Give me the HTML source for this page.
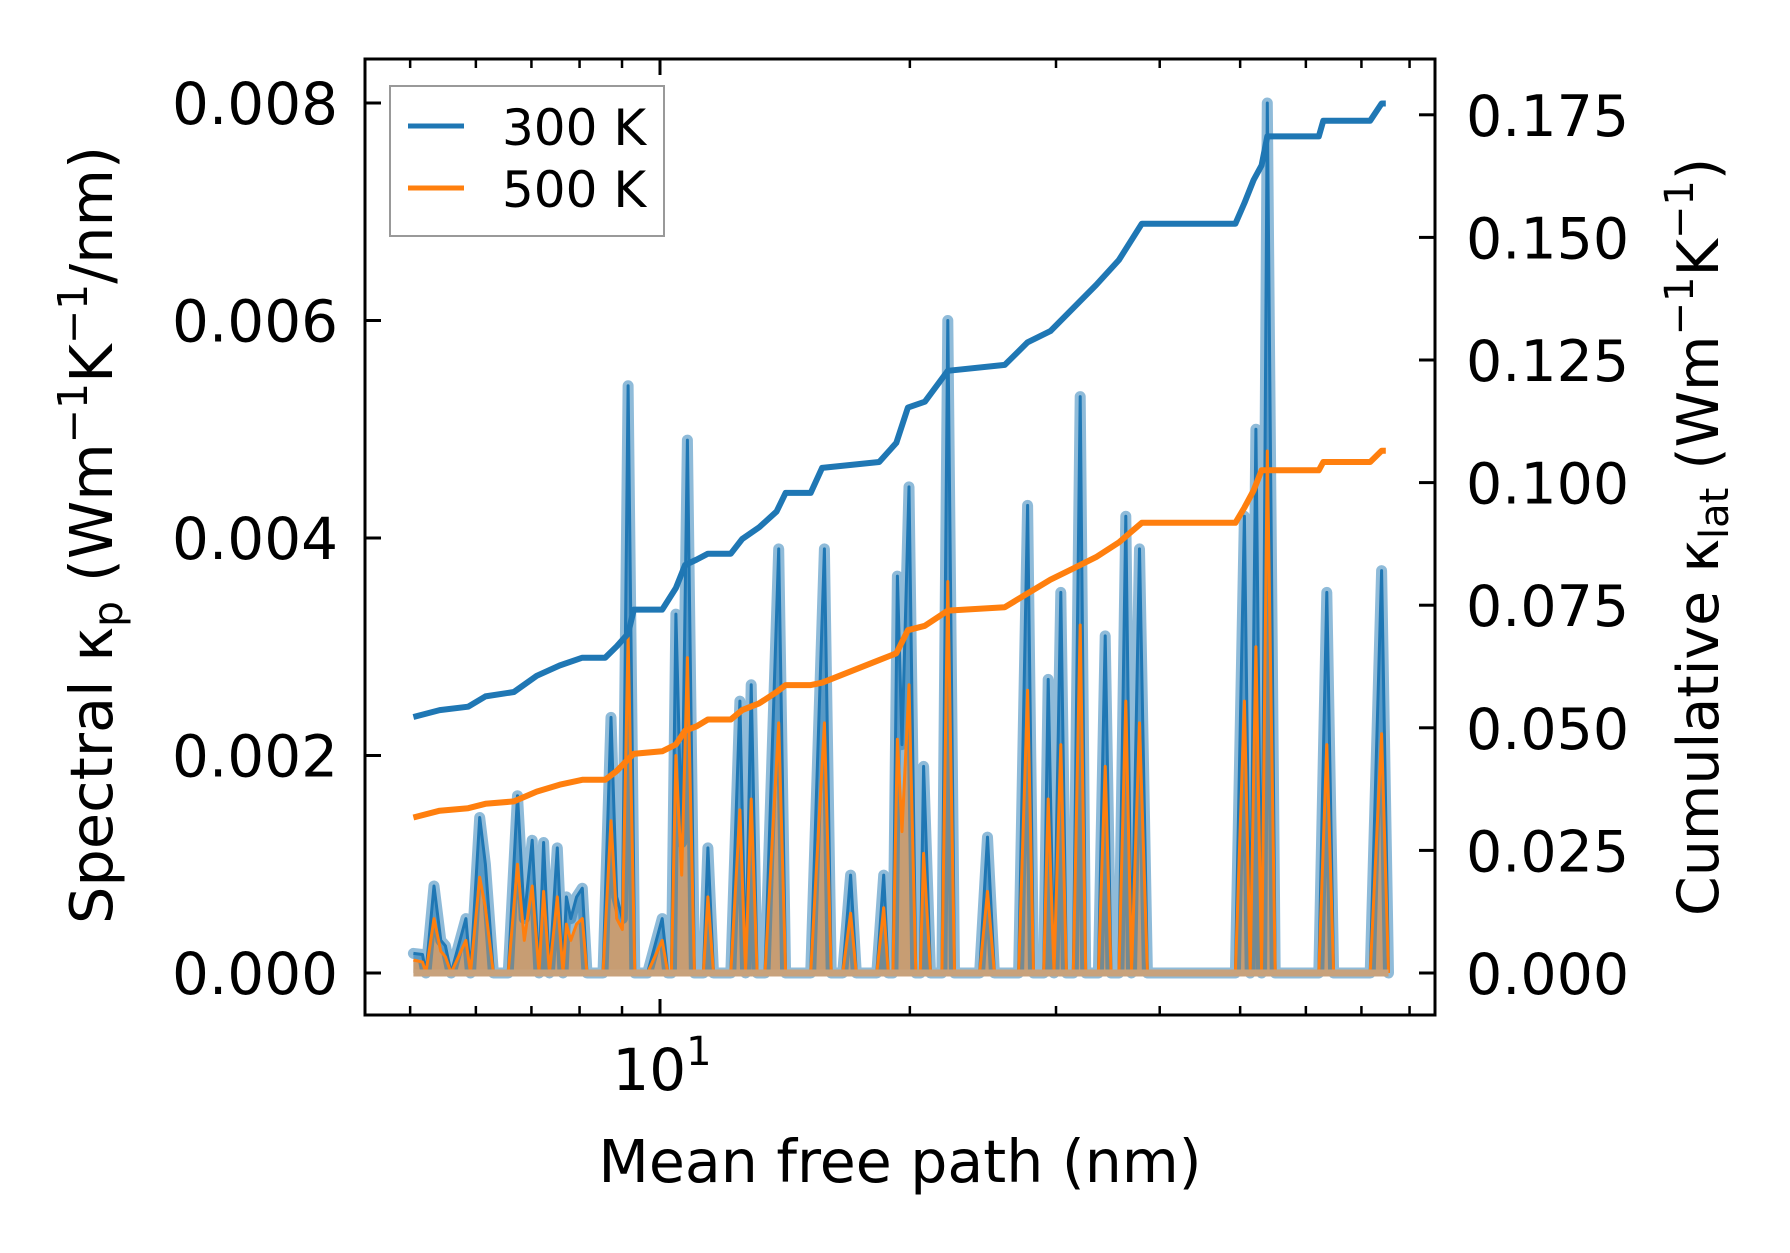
<!DOCTYPE html>
<html><head><meta charset="utf-8">
<style>
html,body{margin:0;padding:0;background:#fff;}
svg{display:block;font-family:"DejaVu Sans","Liberation Sans",sans-serif;}
</style></head>
<body>
<svg id="chart" width="1790" height="1253" viewBox="0 0 1790 1253" xmlns="http://www.w3.org/2000/svg">
<defs><clipPath id="plotclip"><rect x="365" y="59" width="1070" height="956"/></clipPath></defs>
<g id="marks" clip-path="url(#plotclip)"></g>
<g id="axes"></g>
</svg>
<script>
// Spectral data (mean free path in nm, spectral kappa)
const mfp = [5.045,5.174,5.224,5.342,5.444,5.513,5.602,5.837,5.912,6.064,6.161,6.299,6.564,6.734,6.862,7.015,7.149,7.240,7.357,7.521,7.641,7.714,7.808,7.934,8.061,8.166,8.537,8.728,8.867,9.009,9.152,9.326,9.658,10.06,10.22,10.32,10.45,10.62,10.79,11.00,11.28,11.42,11.60,12.17,12.48,12.68,12.88,13.09,13.38,13.90,14.17,15.19,15.78,16.08,16.60,16.97,17.24,18.25,18.60,18.84,19.08,19.32,19.57,19.95,20.33,20.59,20.78,21.18,21.86,22.22,22.64,24.27,24.81,25.29,27.04,27.73,28.18,28.99,29.36,29.83,30.40,30.88,31.47,32.08,32.58,33.74,34.39,34.94,35.72,36.41,36.99,37.82,38.66,49.34,50.60,51.41,52.24,53.07,53.91,55.11,62.19,63.58,64.80,71.72,74.02,75.45];
const k300 = [0.00018,0.00017,0,0.0008,0.0003,0.00025,0,0.0005,0,0.00143,0.001,0,0,0.00163,0.0005,0.00122,0,0.0012,0,0.00115,0,0.0007,0.0005,0.0007,0.00078,0,0,0.00235,0.0007,0.0005,0.0054,0,0,0.0005,0,0,0.0033,0.0012,0.0049,0,0,0.00115,0,0,0.0025,0,0.00265,0,0,0.0039,0,0,0.0039,0,0,0.0009,0,0,0.0009,0,0,0.00365,0.0021,0.00447,0,0,0.0019,0,0,0.006,0,0,0.00125,0,0,0.0043,0,0,0.0027,0,0.0035,0,0,0.0053,0,0,0.0031,0,0,0.0042,0,0.0039,0,0,0.0042,0,0.005,0,0.008,0,0,0.0035,0,0,0.0037,0];
const k500 = [0.00012,0.0001,0,0.0005,0.0002,0.00015,0,0.0003,0,0.00088,0.0006,0,0,0.001,0.0003,0.0008,0,0.00075,0,0.0007,0,0.00045,0.0003,0.00045,0.0005,0,0,0.0014,0.0005,0.0004,0.0031,0,0,0.0003,0,0,0.002,0.0009,0.0029,0,0,0.0007,0,0,0.0015,0,0.0016,0,0,0.0023,0,0,0.0023,0,0,0.00055,0,0,0.0006,0,0,0.00215,0.0013,0.00265,0,0,0.0011,0,0,0.0036,0,0,0.00075,0,0,0.0026,0,0,0.0016,0,0.0021,0,0,0.0032,0,0,0.0019,0,0,0.0025,0,0.0023,0,0,0.0025,0,0.003,0,0.0048,0,0,0.0021,0,0,0.0022,0];
// Cumulative data
const cumMfp = [5.045,5.427,5.874,6.161,6.667,7.104,7.568,8.061,8.590,8.867,9.152,9.298,10.06,10.45,10.72,11.07,11.42,12.17,12.56,13.17,13.82,14.17,15.19,15.68,18.37,19.26,19.89,20.85,22.22,26.03,27.73,29.54,31.47,33.53,35.72,38.06,49.34,50.60,51.90,53.07,53.91,62.19,62.97,71.72,74.02,74.9];
const cum300 = [.0522,.0536,.0543,.0564,.0573,.0606,.0627,.0643,.0643,.0666,.0692,.0741,.0741,.0785,.0832,.0843,.0855,.0855,.0885,.0909,.0941,.0979,.0979,.1030,.1042,.1081,.1153,.1165,.1228,.1240,.1286,.1309,.1356,.1403,.1454,.1528,.1528,.1570,.1617,.1647,.1706,.1706,.1738,.1738,.1773,.1773];
const cum500 = [.0317,.0331,.0336,.0345,.0350,.0370,.0384,.0394,.0394,.0412,.0436,.0447,.0452,.0466,.0494,.0503,.0517,.0517,.0536,.0550,.0573,.0587,.0587,.0592,.0638,.0652,.0699,.0708,.0739,.0746,.0774,.0802,.0825,.0848,.0878,.0918,.0918,.0949,.0984,.1025,.1025,.1025,.1042,.1042,.1065,.1065];
// Ticks
const leftTicks = [0,0.002,0.004,0.006,0.008];
const leftTickLabels = ["0.000","0.002","0.004","0.006","0.008"];
const rightTicks = [0,0.025,0.05,0.075,0.1,0.125,0.15,0.175];
const rightTickLabels = ["0.000","0.025","0.050","0.075","0.100","0.125","0.150","0.175"];
const xMinorTicks = [5,6,7,8,9,20,30,40,50,60,70,80];
const xMajorTicks = [10];

const NS="http://www.w3.org/2000/svg";
const X0=365,X1=1435,Y0=59,Y1=1015;
function xs(v){return 660+830*Math.log10(v/10);}
function yl(v){return 973-v*108750;}
function yr(v){return 973-v*4904;}
function mk(tag,attrs,parent){const e=document.createElementNS(NS,tag);for(const k in attrs)e.setAttribute(k,attrs[k]);parent.appendChild(e);return e;}
const marks=document.getElementById('marks');
const axes=document.getElementById('axes');

function areaPath(ys){let d='M'+xs(mfp[0])+','+yl(0);for(let i=0;i<mfp.length;i++)d+=' L'+xs(mfp[i]).toFixed(1)+','+yl(ys[i]).toFixed(1);d+=' L'+xs(mfp[mfp.length-1])+','+yl(0)+' Z';return d;}
function linePath(xa,ya,f){let d='';for(let i=0;i<xa.length;i++)d+=(i?' L':'M')+xs(xa[i]).toFixed(1)+','+f(ya[i]).toFixed(1);return d;}

let e;
e=mk('path',{d:areaPath(k300),fill:'#1f77b4','fill-opacity':0.5,stroke:'none'},marks);


e=mk('path',{d:areaPath(k500),fill:'#ff7f0e','fill-opacity':0.5,stroke:'none'},marks);


e=mk('path',{d:linePath(mfp,k300,yl),fill:'none',stroke:'#1f77b4','stroke-opacity':0.5,'stroke-width':11,'stroke-linejoin':'round','stroke-linecap':'round'},marks);


e=mk('path',{d:linePath(mfp,k300,yl),fill:'none',stroke:'#1f77b4','stroke-width':3,'stroke-linejoin':'round'},marks);


e=mk('path',{d:linePath(mfp,k500,yl),fill:'none',stroke:'#ff7f0e','stroke-width':3,'stroke-linejoin':'round'},marks);


e=mk('path',{d:linePath(mfp,k300.map(()=>0),yl),fill:'none',stroke:'#c8a27c','stroke-width':7},marks);


e=mk('path',{d:linePath(cumMfp,cum300,yr),fill:'none',stroke:'#1f77b4','stroke-width':6,'stroke-linejoin':'round'},marks);


e=mk('path',{d:linePath(cumMfp,cum500,yr),fill:'none',stroke:'#ff7f0e','stroke-width':6,'stroke-linejoin':'round'},marks);



// frame
e=mk('rect',{x:X0,y:Y0,width:X1-X0,height:Y1-Y0,fill:'none',stroke:'#000','stroke-width':3},axes);


leftTicks.forEach((v,i)=>{const y=yl(v);
 let t=mk('line',{x1:X0,x2:X0+16,y1:y,y2:y,stroke:'#000','stroke-width':3},axes);
 
 
 let tx=mk('text',{x:338,y:y+21,'font-size':58,'text-anchor':'end',fill:'#000'},axes);tx.textContent=leftTickLabels[i];
 
 
});
rightTicks.forEach((v,i)=>{const y=yr(v);
 let t=mk('line',{x1:X1-16,x2:X1,y1:y,y2:y,stroke:'#000','stroke-width':3},axes);
 
 
 let tx=mk('text',{x:1466,y:y+21,'font-size':57,'text-anchor':'start',fill:'#000'},axes);tx.textContent=rightTickLabels[i];
 
 
});
xMinorTicks.forEach(v=>{const x=xs(v);
 [[Y1,Y1-9],[Y0,Y0+9]].forEach(p=>{let t=mk('line',{x1:x,x2:x,y1:p[0],y2:p[1],stroke:'#000','stroke-width':2.5},axes);
 
 });
});
xMajorTicks.forEach(v=>{const x=xs(v);
 [[Y1,Y1-16],[Y0,Y0+16]].forEach(p=>{let t=mk('line',{x1:x,x2:x,y1:p[0],y2:p[1],stroke:'#000','stroke-width':3},axes);
 
 });
});
</script>
<svg style="position:absolute;left:0;top:0" width="1790" height="1253">
<text x="662" y="1090" font-size="58" text-anchor="middle" font-family="DejaVu Sans,Liberation Sans,sans-serif">10<tspan font-size="40" dy="-25">1</tspan></text>
<text x="900" y="1182" font-size="58.5" text-anchor="middle" font-family="DejaVu Sans,Liberation Sans,sans-serif">Mean free path (nm)</text>
<text transform="translate(112,535) rotate(-90)" font-size="59" text-anchor="middle" font-family="DejaVu Sans,Liberation Sans,sans-serif">Spectral κ<tspan font-size="41" dy="10">p</tspan><tspan dy="-10"> (Wm</tspan><tspan font-size="41" dy="-25">−1</tspan><tspan dy="25">K</tspan><tspan font-size="41" dy="-25">−1</tspan><tspan dy="25">/nm)</tspan></text>
<text transform="translate(1718,537) rotate(-90)" font-size="57" text-anchor="middle" font-family="DejaVu Sans,Liberation Sans,sans-serif">Cumulative κ<tspan font-size="40" dy="10">lat</tspan><tspan dy="-10"> (Wm</tspan><tspan font-size="40" dy="-25">−1</tspan><tspan dy="25">K</tspan><tspan font-size="40" dy="-25">−1</tspan><tspan dy="25">)</tspan></text>
<g>
<rect x="390" y="86" width="274" height="150" fill="#fff" fill-opacity="0.8" stroke="#999" stroke-width="2"/>
<line x1="408" x2="464" y1="126" y2="126" stroke="#1f77b4" stroke-width="5"/>
<text x="502" y="145" font-size="50" font-family="DejaVu Sans,Liberation Sans,sans-serif">300 K</text>
<line x1="408" x2="464" y1="188" y2="188" stroke="#ff7f0e" stroke-width="5"/>
<text x="502" y="207" font-size="50" font-family="DejaVu Sans,Liberation Sans,sans-serif">500 K</text>
</g>
</svg>
</body></html>
